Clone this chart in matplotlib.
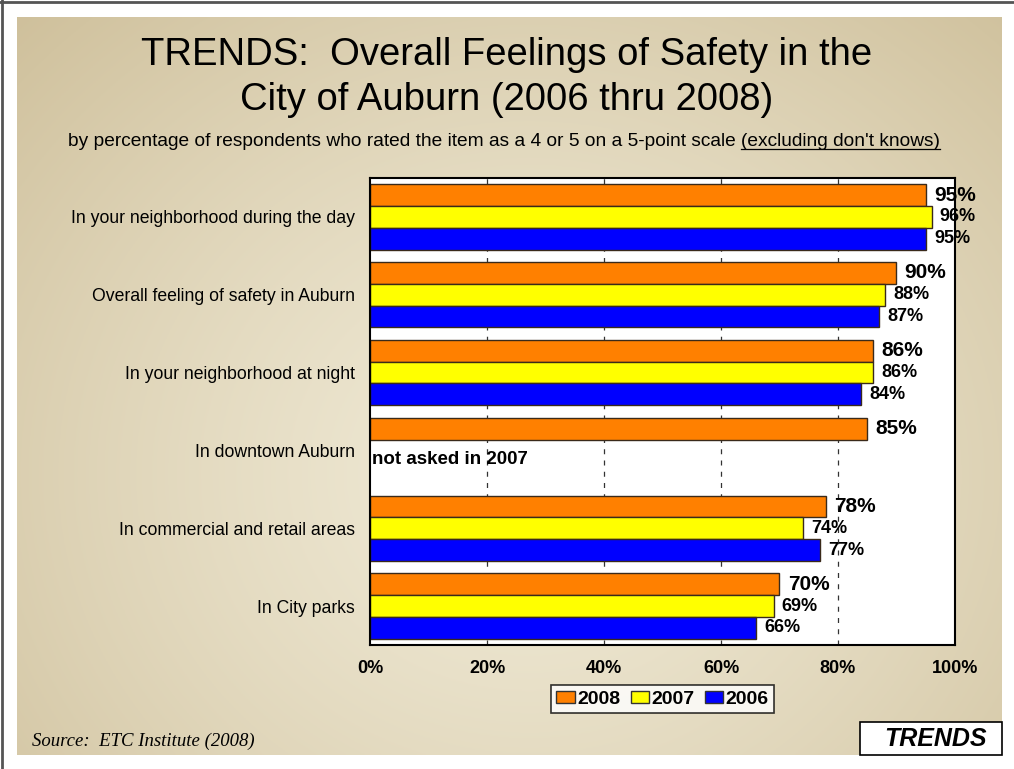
import numpy as np
import matplotlib
matplotlib.use("Agg")
import matplotlib.pyplot as plt
from matplotlib.patches import Patch, Rectangle
from matplotlib.lines import Line2D

plt.rcParams['font.family'] = ['Liberation Sans', 'DejaVu Sans']

categories = [
    "In your neighborhood during the day",
    "Overall feeling of safety in Auburn",
    "In your neighborhood at night",
    "In downtown Auburn",
    "In commercial and retail areas",
    "In City parks",
]
v2008 = [95, 90, 86, 85, 78, 70]
v2007 = [96, 88, 86, None, 74, 69]
v2006 = [95, 87, 84, None, 77, 66]
years = ["2008", "2007", "2006"]
colors = ["#FF8000", "#FFFF00", "#0000FF"]
xticks = [0, 20, 40, 60, 80, 100]

W, H = 1014, 769
fig = plt.figure(figsize=(W / 100, H / 100), dpi=100, facecolor="white")

# beige slide background with a soft radial glow
bg = fig.add_axes([17 / W, 1 - 755 / H, (1002 - 17) / W, (755 - 17) / H])
yy, xx = np.mgrid[0:1:300j, 0:1:400j]
d = np.sqrt(((xx - 0.52) / 0.75) ** 2 + ((yy - 0.62) / 0.9) ** 2)
d = np.clip(d, 0, 1) ** 1.3
light = np.array([240, 234, 214]) / 255
dark = np.array([206, 191, 154]) / 255
img = light[None, None, :] * (1 - d[..., None]) + dark[None, None, :] * d[..., None]
bg.imshow(img, aspect="auto", extent=[0, 1, 0, 1], origin="upper")
bg.set_axis_off()

# slide frame lines (top and left)
fig.add_artist(Line2D([0, 1], [1 - 1.5 / H, 1 - 1.5 / H], color="#555555", lw=2))
fig.add_artist(Line2D([1.5 / W, 1.5 / W], [0, 1], color="#555555", lw=2))

# titles
fig.text(507 / W, 1 - 55 / H, "TRENDS:  Overall Feelings of Safety in the",
         ha="center", va="center", fontsize=27.5)
fig.text(507 / W, 1 - 100 / H, "City of Auburn (2006 thru 2008)",
         ha="center", va="center", fontsize=27.5)

sub1 = "by percentage of respondents who rated the item as a 4 or 5 on a 5-point scale "
sub2 = "(excluding don't knows)"
ys = 1 - 141 / H
t1 = fig.text(68 / W, ys, sub1, ha="left", va="center", fontsize=13.8)
r = fig.canvas.get_renderer()
bb1 = t1.get_window_extent(r)
t2 = fig.text(bb1.x1 / W, ys, sub2, ha="left", va="center", fontsize=13.8)
bb2 = t2.get_window_extent(r)
uy = (bb2.y0 + 1) / H
fig.add_artist(Line2D([bb2.x0 / W, bb2.x1 / W], [uy, uy], color="black", lw=0.9))

# main chart
ax = fig.add_axes([370 / W, 1 - 645 / H, 585 / W, 467 / H])
ax.set_facecolor("white")
y = np.arange(len(categories))
h = 0.28
series = [v2008, v2007, v2006]
offsets = [-h, 0, h]
for vals, col, off, yr in zip(series, colors, offsets, years):
    for i, v in enumerate(vals):
        if v is None:
            continue
        ax.barh(y[i] + off, v, height=h, color=col, edgecolor="#3a2a1a", lw=1, zorder=2)
        fs = 15 if yr == "2008" else 13
        ax.text(v + 1.4, y[i] + off, f"{v}%", ha="left", va="center",
                fontsize=fs, fontweight="bold", zorder=3)

ax.text(0.4, 3 + 0.12, "not asked in 2007", ha="left", va="center",
        fontsize=13.5, fontweight="bold", zorder=3)

for gx in xticks[1:-1]:
    ax.axvline(gx, color="#333333", lw=0.9, ls=(0, (4, 5)), zorder=1)

ax.set_xlim(0, 100)
ax.set_ylim(5.5, -0.5)
ax.set_xticks(xticks)
ax.set_xticklabels([f"{t}%" for t in xticks], fontsize=13, fontweight="bold")
ax.set_yticks(y)
ax.set_yticklabels(categories, fontsize=12.7)
ax.tick_params(axis="x", length=0, pad=11)
ax.tick_params(axis="y", length=0, pad=11)
for s in ax.spines.values():
    s.set_linewidth(1.5)
    s.set_color("black")

handles = [Patch(facecolor=c, edgecolor="#333333", label=yr) for c, yr in zip(colors, years)]
leg = ax.legend(handles=handles, loc="upper center", bbox_to_anchor=(0.5, -0.085),
                ncol=3, frameon=True, fancybox=False, edgecolor="black",
                prop={"weight": "bold", "size": 14}, handlelength=0.95,
                handleheight=0.6, handletextpad=0.1, columnspacing=0.55,
                borderpad=0.3, borderaxespad=0)
leg.get_frame().set_linewidth(1.2)

# footer
fig.text(32 / W, 1 - 741 / H, "Source:  ETC Institute (2008)", ha="left", va="center",
         fontsize=13.5, family="Liberation Serif", style="italic")
fig.add_artist(Rectangle((860 / W, 1 - 755 / H), 142 / W, 33 / H, transform=fig.transFigure,
                         facecolor="white", edgecolor="black", lw=1.2))
fig.text(935 / W, 1 - 739 / H, "TRENDS", ha="center", va="center",
         fontsize=18, fontweight="bold", style="italic")

fig.savefig("out.png", dpi=100, facecolor="white")
